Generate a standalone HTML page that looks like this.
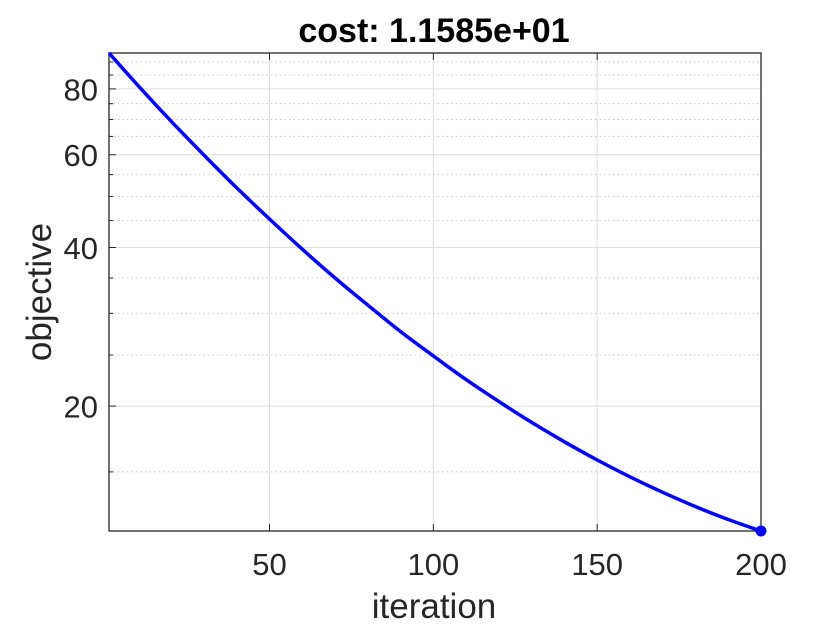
<!DOCTYPE html>
<html><head><meta charset="utf-8"><style>
html,body{margin:0;padding:0;background:#fff;}
svg{display:block;font-family:"Liberation Sans",Arial,sans-serif;}
</style></head><body>
<svg id="chart" width="840" height="630"></svg>
<script>
const iterations=[1,10,20,30,40,50,60,70,80,90,100,110,120,130,140,150,160,170,180,190,200];
const objectiveValues=[93.6,81.0,69.4,59.9,51.9,45.3,39.7,35.0,31.1,27.7,24.9,22.45,20.4,18.62,17.11,15.80,14.68,13.72,12.89,12.18,11.585];
const xTicks=[50,100,150,200];
const yTicks=[20,40,60,80];
const yMinor=[15,25,30,35,45,50,55,65,70,75,85,90];
const L=109,R=761,T=53,B=531,xMin=1,xMax=200,yMin=11.585,yMax=93.6;
const NS='http://www.w3.org/2000/svg';
const svg=document.getElementById('chart');
function X(v){return L+(v-xMin)/(xMax-xMin)*(R-L);}
function Y(v){return B-(Math.log10(v)-Math.log10(yMin))/(Math.log10(yMax)-Math.log10(yMin))*(B-T);}
function mk(t,a,txt){const e=document.createElementNS(NS,t);for(const k in a)e.setAttribute(k,a[k]);if(txt!==undefined)e.textContent=txt;svg.appendChild(e);return e;}
yMinor.forEach(v=>{const e=mk('line',{x1:L,x2:R,y1:Y(v),y2:Y(v),stroke:'#c8c8c8','stroke-width':1,'stroke-dasharray':'1.5 3'});


const t=mk('line',{x1:L,x2:L+4,y1:Y(v),y2:Y(v),stroke:'#262626'});

});
yTicks.forEach(v=>{const e=mk('line',{x1:L,x2:R,y1:Y(v),y2:Y(v),stroke:'#dcdcdc','stroke-width':1});


const t=mk('line',{x1:L,x2:L+7,y1:Y(v),y2:Y(v),stroke:'#262626'});


const l=mk('text',{x:L-11,y:Y(v)+11.5,'text-anchor':'end','font-size':31,fill:'#262626'},String(v));

});
xTicks.forEach(v=>{const e=mk('line',{x1:X(v),x2:X(v),y1:T,y2:B,stroke:'#dcdcdc','stroke-width':1});


const t=mk('line',{x1:X(v),x2:X(v),y1:B,y2:B-7,stroke:'#262626'});


const t2=mk('line',{x1:X(v),x2:X(v),y1:T,y2:T+7,stroke:'#262626'});


const l=mk('text',{x:X(v),y:B+44,'text-anchor':'middle','font-size':31,fill:'#262626'},String(v));

});
const ax=mk('rect',{x:L,y:T,width:R-L,height:B-T,fill:'none',stroke:'#262626','stroke-width':1.3});


const pts=iterations.map((v,i)=>[X(v),Y(objectiveValues[i])]);
let d='M'+pts[0][0].toFixed(1)+','+pts[0][1].toFixed(1);
for(let i=0;i<pts.length-1;i++){const p0=pts[Math.max(0,i-1)],p1=pts[i],p2=pts[i+1],p3=pts[Math.min(pts.length-1,i+2)];
const c1=[p1[0]+(p2[0]-p0[0])/6,p1[1]+(p2[1]-p0[1])/6],c2=[p2[0]-(p3[0]-p1[0])/6,p2[1]-(p3[1]-p1[1])/6];
d+=`C${c1[0].toFixed(1)},${c1[1].toFixed(1)} ${c2[0].toFixed(1)},${c2[1].toFixed(1)} ${p2[0].toFixed(1)},${p2[1].toFixed(1)}`;}
const ln=mk('path',{d:d,fill:'none',stroke:'#0000ff','stroke-width':3.5,'stroke-linejoin':'round'});


const n=iterations.length-1;
const dot=mk('circle',{cx:X(iterations[n]),cy:Y(objectiveValues[n]),r:5.5,fill:'#0000ff'});


const ti=mk('text',{x:434,y:42,'text-anchor':'middle','font-size':34,'font-weight':'bold',fill:'#000'},'cost: 1.1585e+01');


const xl=mk('text',{x:434,y:618,'text-anchor':'middle','font-size':35,fill:'#262626'},'iteration');


const yl=mk('text',{x:0,y:0,'text-anchor':'middle','font-size':35,fill:'#262626',transform:'translate(51,292) rotate(-90)'},'objective');


</script>
</body></html>
